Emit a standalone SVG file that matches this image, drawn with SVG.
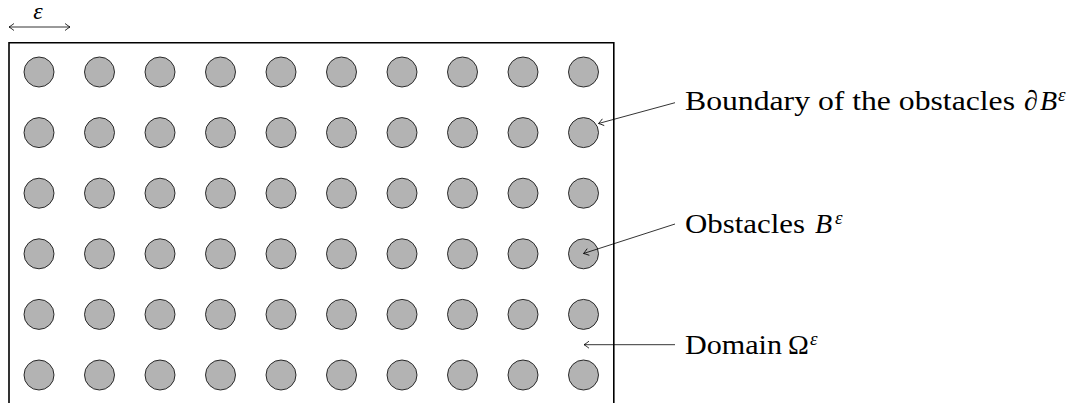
<svg xmlns="http://www.w3.org/2000/svg" width="1083" height="403" viewBox="0 0 1083 403">
  <style>
    .obs { fill: #b3b3b3; stroke: #000; stroke-width: 0.8; }
    .frame { fill: none; stroke: #000; stroke-width: 1.6; }
    .conn { fill: none; stroke: #000; stroke-width: 0.8; }
    .lbl { font-family: "Liberation Serif", "DejaVu Serif", serif; font-size: 28px; fill: #000; }
    .math { font-style: italic; }
    .sup { font-style: italic; font-size: 19px; }
    .eps { font-family: "Liberation Serif", "DejaVu Serif", serif; font-style: italic; font-size: 24px; fill: #000; }
  </style>
  <defs>
    <marker id="tip" viewBox="-6 -5 8 10" markerWidth="8" markerHeight="10" refX="0" refY="0" orient="auto-start-reverse" markerUnits="userSpaceOnUse">
      <path d="M -5 -3.5 Q -1.5 -0.8 0 0 Q -1.5 0.8 -5 3.5" fill="none" stroke="#000" stroke-width="0.8"/>
    </marker>
  </defs>

  <!-- domain boundary, open at the bottom -->
  <g id="domain">
    <path class="frame" d="M 9 410 V 42.8 H 613.8 V 410"/>
  </g>

  <!-- periodic array of obstacles -->
  <g id="obstacles">
    <g id="row1">
      <circle class="obs" cx="39" cy="72" r="15"/><circle class="obs" cx="99.5" cy="72" r="15"/><circle class="obs" cx="160" cy="72" r="15"/><circle class="obs" cx="220.5" cy="72" r="15"/><circle class="obs" cx="281" cy="72" r="15"/><circle class="obs" cx="341.5" cy="72" r="15"/><circle class="obs" cx="402" cy="72" r="15"/><circle class="obs" cx="462.5" cy="72" r="15"/><circle class="obs" cx="523" cy="72" r="15"/><circle class="obs" cx="583.5" cy="72" r="15"/>
    </g>
    <g id="row2">
      <circle class="obs" cx="39" cy="132.6" r="15"/><circle class="obs" cx="99.5" cy="132.6" r="15"/><circle class="obs" cx="160" cy="132.6" r="15"/><circle class="obs" cx="220.5" cy="132.6" r="15"/><circle class="obs" cx="281" cy="132.6" r="15"/><circle class="obs" cx="341.5" cy="132.6" r="15"/><circle class="obs" cx="402" cy="132.6" r="15"/><circle class="obs" cx="462.5" cy="132.6" r="15"/><circle class="obs" cx="523" cy="132.6" r="15"/><circle class="obs" cx="583.5" cy="132.6" r="15"/>
    </g>
    <g id="row3">
      <circle class="obs" cx="39" cy="193.2" r="15"/><circle class="obs" cx="99.5" cy="193.2" r="15"/><circle class="obs" cx="160" cy="193.2" r="15"/><circle class="obs" cx="220.5" cy="193.2" r="15"/><circle class="obs" cx="281" cy="193.2" r="15"/><circle class="obs" cx="341.5" cy="193.2" r="15"/><circle class="obs" cx="402" cy="193.2" r="15"/><circle class="obs" cx="462.5" cy="193.2" r="15"/><circle class="obs" cx="523" cy="193.2" r="15"/><circle class="obs" cx="583.5" cy="193.2" r="15"/>
    </g>
    <g id="row4">
      <circle class="obs" cx="39" cy="253.8" r="15"/><circle class="obs" cx="99.5" cy="253.8" r="15"/><circle class="obs" cx="160" cy="253.8" r="15"/><circle class="obs" cx="220.5" cy="253.8" r="15"/><circle class="obs" cx="281" cy="253.8" r="15"/><circle class="obs" cx="341.5" cy="253.8" r="15"/><circle class="obs" cx="402" cy="253.8" r="15"/><circle class="obs" cx="462.5" cy="253.8" r="15"/><circle class="obs" cx="523" cy="253.8" r="15"/><circle class="obs" cx="583.5" cy="253.8" r="15"/>
    </g>
    <g id="row5">
      <circle class="obs" cx="39" cy="314.4" r="15"/><circle class="obs" cx="99.5" cy="314.4" r="15"/><circle class="obs" cx="160" cy="314.4" r="15"/><circle class="obs" cx="220.5" cy="314.4" r="15"/><circle class="obs" cx="281" cy="314.4" r="15"/><circle class="obs" cx="341.5" cy="314.4" r="15"/><circle class="obs" cx="402" cy="314.4" r="15"/><circle class="obs" cx="462.5" cy="314.4" r="15"/><circle class="obs" cx="523" cy="314.4" r="15"/><circle class="obs" cx="583.5" cy="314.4" r="15"/>
    </g>
    <g id="row6">
      <circle class="obs" cx="39" cy="375" r="15"/><circle class="obs" cx="99.5" cy="375" r="15"/><circle class="obs" cx="160" cy="375" r="15"/><circle class="obs" cx="220.5" cy="375" r="15"/><circle class="obs" cx="281" cy="375" r="15"/><circle class="obs" cx="341.5" cy="375" r="15"/><circle class="obs" cx="402" cy="375" r="15"/><circle class="obs" cx="462.5" cy="375" r="15"/><circle class="obs" cx="523" cy="375" r="15"/><circle class="obs" cx="583.5" cy="375" r="15"/>
    </g>
  </g>

  <!-- period length indicator -->
  <g id="period">
    <line class="conn" x1="9" y1="27" x2="70" y2="27" marker-start="url(#tip)" marker-end="url(#tip)"/>
    <text class="eps" x="38" y="19" text-anchor="middle">ε</text>
  </g>

  <!-- annotation arrows -->
  <g id="connectors">
    <line class="conn" x1="675" y1="102.7" x2="598.5" y2="123.5" marker-end="url(#tip)"/>
    <line class="conn" x1="675" y1="224" x2="583.5" y2="253.5" marker-end="url(#tip)"/>
    <line class="conn" x1="675" y1="344.7" x2="584" y2="344.7" marker-end="url(#tip)"/>
  </g>

  <!-- annotation labels -->
  <g id="label-boundary">
    <text class="lbl" y="110"><tspan x="685" textLength="330" lengthAdjust="spacingAndGlyphs">Boundary of the obstacles</tspan><tspan class="math" x="1024">∂</tspan><tspan class="math" x="1040">B</tspan><tspan class="sup" x="1058" y="101">ε</tspan></text>
  </g>
  <g id="label-obstacles">
    <text class="lbl" y="233"><tspan x="685" textLength="120" lengthAdjust="spacingAndGlyphs">Obstacles</tspan><tspan class="math" x="815">B</tspan><tspan class="sup" x="835" y="224">ε</tspan></text>
  </g>
  <g id="label-domain">
    <text class="lbl" y="354"><tspan x="685" textLength="97" lengthAdjust="spacingAndGlyphs">Domain</tspan><tspan x="788">Ω</tspan><tspan class="sup" x="810" y="345">ε</tspan></text>
  </g>
</svg>
